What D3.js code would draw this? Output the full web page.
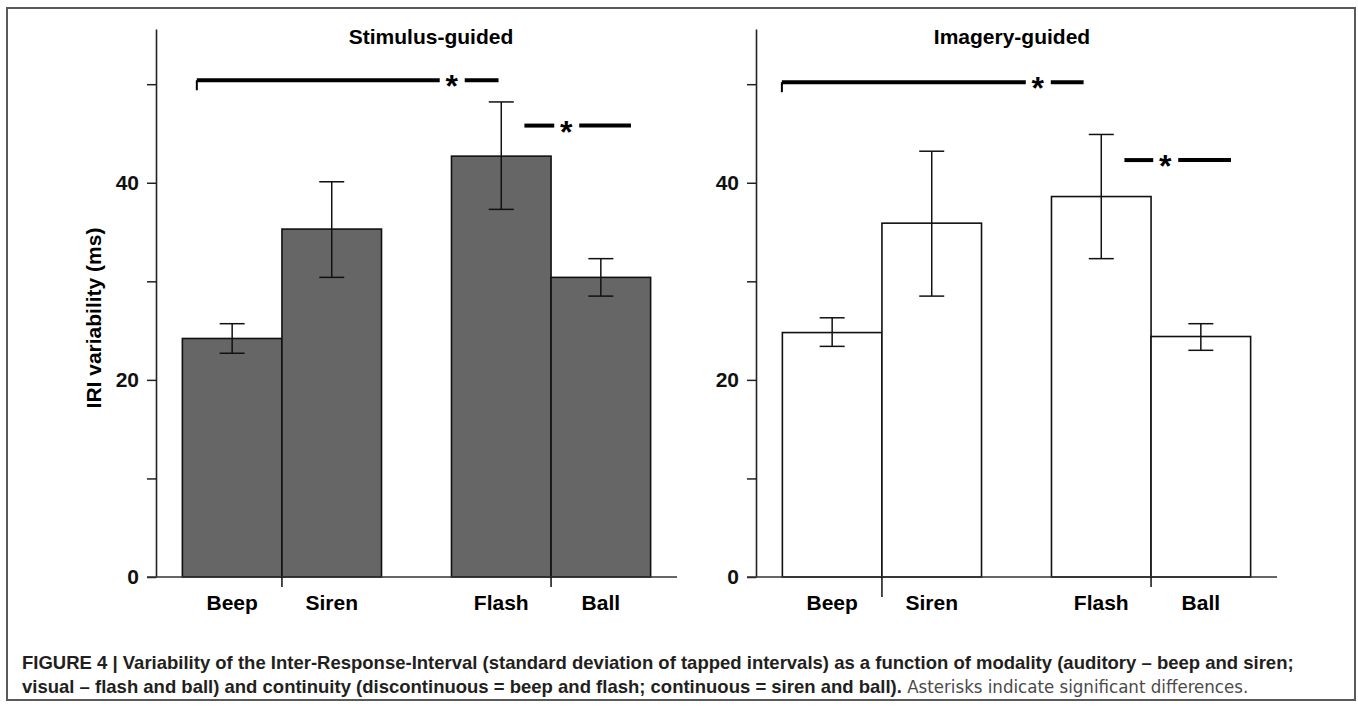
<!DOCTYPE html>
<html>
<head>
<meta charset="utf-8">
<script src="https://cdn.jsdelivr.net/npm/d3@7"></script>
<style>
  body { margin: 0; background: #fff; }
  text { font-family: "Liberation Sans", Arial, sans-serif; }
</style>
</head>
<body>
<div id="chart"></div>
<script>
// data
var categories  = ["Beep", "Siren", "Flash", "Ball"];
var modality    = ["auditory", "auditory", "visual", "visual"];
var continuity  = ["discontinuous", "continuous", "discontinuous", "continuous"];

var stimMean  = [24.2, 35.3, 42.7, 30.4];
var stimLower = [22.7, 30.4, 37.3, 28.5];
var stimUpper = [25.7, 40.1, 48.2, 32.3];

var imagMean  = [24.8, 35.9, 38.6, 24.4];
var imagLower = [23.4, 28.5, 32.3, 23.0];
var imagUpper = [26.3, 43.2, 44.9, 25.7];

var yTicks      = [0, 10, 20, 30, 40, 50];
var yTickLabels = ["0", "", "20", "", "40", ""];

// significance bars (x in bar-width units from the y axis, level in ms)
var stimSigStart = [0.41, 3.70], stimSigEnd = [3.44, 4.77], stimSigStar = [2.97, 4.12], stimSigLevel = [50.4, 45.8];
var imagSigStart = [0.26, 3.70], imagSigEnd = [3.29, 4.77], imagSigStar = [2.83, 4.11], imagSigLevel = [50.2, 42.3];

var width = 1358, height = 708;

var svg = d3.select("#chart").append("svg")
    .attr("width", width)
    .attr("height", height);

// frame
svg.append("rect")
    .attr("x", 7).attr("y", 8)
    .attr("width", 1348).attr("height", 692)
    .attr("fill", "none")
    .attr("stroke", "#5a5a5a")
    .attr("stroke-width", 2);

var y = d3.scaleLinear().domain([0, 55.6]).range([577, 29]);

var plotW = 521;
var xGroup = d3.scaleBand()
    .domain(["auditory", "visual"])
    .range([0, plotW])
    .paddingInner(0.26)
    .paddingOuter(0.098)
    .align(0.5);
var xSub = d3.scaleBand()
    .domain(["discontinuous", "continuous"])
    .range([0, xGroup.bandwidth()])
    .padding(0);
var xUnit = d3.scaleLinear().domain([0, plotW / xSub.bandwidth()]).range([0, plotW]);

function xLeft(i) { return xGroup(modality[i]) + xSub(continuity[i]); }

var panels = [
  { x: 156, title: "Stimulus-guided", titleX: 275, fill: "#656665",
    mean: stimMean, lo: stimLower, hi: stimUpper,
    sStart: stimSigStart, sEnd: stimSigEnd, sStar: stimSigStar, sLevel: stimSigLevel,
    tickLen: [10, 10] },
  { x: 756, title: "Imagery-guided", titleX: 256, fill: "#ffffff",
    mean: imagMean, lo: imagLower, hi: imagUpper,
    sStart: imagSigStart, sEnd: imagSigEnd, sStar: imagSigStar, sLevel: imagSigLevel,
    tickLen: [20, 10] }
];

panels.forEach(function(p) {
  var g = svg.append("g").attr("transform", "translate(" + p.x + ",0)");

  // title
  g.append("text")
    .attr("x", p.titleX).attr("y", 44)
    .attr("text-anchor", "middle")
    .style("font-size", "21px").style("font-weight", "bold")
    .text(p.title);

  // bars
  g.selectAll("rect.bar")
    .data(p.mean)
    .enter().append("rect")
    .attr("class", "bar")
    .attr("x", function(d, i) { return xLeft(i); })
    .attr("y", function(d) { return y(d); })
    .attr("width", xSub.bandwidth())
    .attr("height", function(d) { return y(0) - y(d); })
    .attr("fill", p.fill)
    .attr("stroke", "#111")
    .attr("stroke-width", 1.6);

  // error bars
  var eb = g.selectAll("g.err")
    .data(p.mean)
    .enter().append("g")
    .attr("class", "err")
    .attr("stroke", "#111")
    .attr("stroke-width", 1.5);
  eb.append("line")
    .attr("x1", function(d, i) { return xLeft(i) + xSub.bandwidth() / 2; })
    .attr("x2", function(d, i) { return xLeft(i) + xSub.bandwidth() / 2; })
    .attr("y1", function(d, i) { return y(p.lo[i]); })
    .attr("y2", function(d, i) { return y(p.hi[i]); });
  [p.lo, p.hi].forEach(function(arr) {
    eb.append("line")
      .attr("x1", function(d, i) { return xLeft(i) + xSub.bandwidth() / 2 - 12.5; })
      .attr("x2", function(d, i) { return xLeft(i) + xSub.bandwidth() / 2 + 12.5; })
      .attr("y1", function(d, i) { return y(arr[i]); })
      .attr("y2", function(d, i) { return y(arr[i]); });
  });

  // y axis
  var yAxis = d3.axisLeft(y)
    .tickValues(yTicks)
    .tickSize(9)
    .tickSizeOuter(0)
    .tickPadding(8)
    .tickFormat(function(d, i) { return yTickLabels[i]; });
  var ya = g.append("g").call(yAxis);
  ya.select(".domain").attr("stroke", "#222").attr("stroke-width", 1.6);
  ya.selectAll(".tick line").attr("stroke", "#222").attr("stroke-width", 1.5);
  ya.selectAll(".tick text")
    .attr("fill", "#111")
    .style("font-size", "21px").style("font-weight", "bold")
    .style("font-family", "'Liberation Sans', Arial, sans-serif");

  // x axis line
  g.append("line")
    .attr("x1", -9).attr("x2", plotW)
    .attr("y1", y(0)).attr("y2", y(0))
    .attr("stroke", "#333").attr("stroke-width", 1.6);

  // ticks between the paired bars
  g.selectAll("line.xtick")
    .data(xGroup.domain())
    .enter().append("line")
    .attr("class", "xtick")
    .attr("x1", function(d) { return xGroup(d) + xSub.bandwidth(); })
    .attr("x2", function(d) { return xGroup(d) + xSub.bandwidth(); })
    .attr("y1", y(0))
    .attr("y2", function(d, i) { return y(0) + p.tickLen[i]; })
    .attr("stroke", "#111").attr("stroke-width", 1.5);

  // category labels
  g.selectAll("text.cat")
    .data(categories)
    .enter().append("text")
    .attr("class", "cat")
    .attr("x", function(d, i) { return xLeft(i) + xSub.bandwidth() / 2; })
    .attr("y", 610)
    .attr("text-anchor", "middle")
    .style("font-size", "21px").style("font-weight", "bold")
    .text(function(d) { return d; });

  // significance bars
  p.sLevel.forEach(function(lv, k) {
    var yy = y(lv), xs = xUnit(p.sStar[k]);
    g.append("line")
      .attr("x1", xUnit(p.sStart[k])).attr("x2", xs - 12)
      .attr("y1", yy).attr("y2", yy)
      .attr("stroke", "#000").attr("stroke-width", 4);
    g.append("line")
      .attr("x1", xs + 13).attr("x2", xUnit(p.sEnd[k]))
      .attr("y1", yy).attr("y2", yy)
      .attr("stroke", "#000").attr("stroke-width", 4);
    g.append("text")
      .attr("x", xs).attr("y", yy + 17)
      .attr("text-anchor", "middle")
      .style("font-size", "32px").style("font-weight", "bold")
      .text("*");
    if (k === 0) {
      g.append("line")
        .attr("x1", xUnit(p.sStart[k])).attr("x2", xUnit(p.sStart[k]))
        .attr("y1", yy).attr("y2", yy + 10)
        .attr("stroke", "#000").attr("stroke-width", 2);
    }
  });
});

// y axis title
svg.append("text")
  .attr("transform", "translate(93,318) rotate(-90)")
  .attr("text-anchor", "middle")
  .attr("dominant-baseline", "central")
  .style("font-size", "21px").style("font-weight", "bold")
  .text("IRI variability (ms)");

// caption
var cap = svg.append("text")
  .attr("x", 22).attr("y", 669)
  .attr("fill", "#231f20")
  .style("font-size", "18.5px").style("font-weight", "bold");
cap.text("FIGURE 4 | Variability of the Inter-Response-Interval (standard deviation of tapped intervals) as a function of modality (auditory \u2013 beep and siren;");

var cap2 = svg.append("text")
  .attr("x", 22).attr("y", 693)
  .attr("fill", "#231f20")
  .style("font-size", "18.5px");
cap2.append("tspan").style("font-weight", "bold")
  .text("visual \u2013 flash and ball) and continuity (discontinuous = beep and flash; continuous = siren and ball).");
cap2.append("tspan").attr("fill", "#4a4a4a")
  .style("font-family", "'Liberation Sans Narrow', 'DejaVu Sans Condensed', sans-serif")
  .text(" Asterisks indicate significant differences.");
</script>
</body>
</html>
